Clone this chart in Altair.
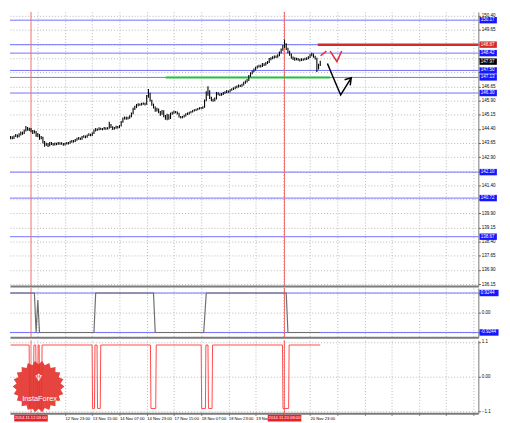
import altair as alt
import pandas as pd
import math

# ---------------- data (x = H1 bar index, 0 = 2014.11.12 03:00) ----------------
FIRST_BAR = -12
closes = [143.95, 143.90, 144.00, 144.05, 143.98, 144.10, 144.20, 144.15, 144.30, 144.45, 144.35, 144.40, 144.30,
          144.20, 144.25, 144.05, 144.10, 143.90, 143.95, 143.70, 143.55,
          143.60, 143.50, 143.65, 143.60, 143.55, 143.62, 143.58, 143.65, 143.60, 143.63, 143.55, 143.60, 143.65, 143.62,
          143.70, 143.75, 143.72, 143.80, 143.85, 143.90, 143.85, 143.95, 144.00, 143.95, 144.05, 144.10, 144.05, 144.15,
          144.30, 144.38, 144.35, 144.42, 144.40, 144.38, 144.45, 144.40, 144.42, 144.60, 144.50, 144.40,
          144.45, 144.50, 144.48, 144.55, 144.75,
          144.95, 145.00, 144.95, 144.98, 145.05, 145.20,
          145.45, 145.55, 145.65, 145.70, 145.68, 145.72, 145.75, 145.70,
          146.10, 146.30,
          145.90, 145.70, 145.55, 145.40, 145.45,
          145.30, 145.20, 145.35, 145.10, 145.00, 145.15, 144.95, 145.20, 145.25, 145.30, 145.28, 145.22,
          145.05, 145.00, 145.03, 145.10,
          145.18, 145.20, 145.25, 145.30, 145.35, 145.38,
          145.42, 145.45, 145.50, 145.48, 145.55,
          145.90, 146.20, 146.40,
          146.05, 145.95, 145.90, 146.00,
          146.30, 146.25, 146.20,
          146.25, 146.30, 146.35, 146.40, 146.38, 146.45, 146.50, 146.55,
          146.60, 146.65, 146.70, 146.68, 146.75, 146.85, 146.90, 146.98,
          147.20, 147.35, 147.45, 147.55, 147.65,
          147.70, 147.75, 147.72, 147.85, 147.80, 147.90, 147.95,
          148.10, 148.15, 148.20, 148.25, 148.22, 148.30,
          148.45, 148.60, 148.78,
          148.85,
          148.65, 148.50, 148.35, 148.20,
          148.15, 148.10, 148.12, 148.08, 148.05, 148.10, 148.08, 148.12, 148.15, 148.20,
          148.30, 148.38, 148.25,
          148.15,
          147.60,
          147.80, 147.97]
highs = [144.02, 144.00, 144.05, 144.12, 144.10, 144.16, 144.26, 144.25, 144.36, 144.55, 144.50, 144.46, 144.44,
         144.34, 144.32, 144.28, 144.18, 144.12, 144.02, 143.98, 143.75,
         143.66, 143.64, 143.70, 143.70, 143.64, 143.67, 143.66, 143.70, 143.68, 143.68, 143.65, 143.66, 143.70, 143.70,
         143.76, 143.80, 143.80, 143.86, 143.92, 143.96, 143.94, 144.02, 144.06, 144.04, 144.10, 144.16, 144.14, 144.22,
         144.36, 144.44, 144.42, 144.48, 144.46, 144.44, 144.50, 144.48, 144.48, 144.78, 144.65, 144.54,
         144.50, 144.56, 144.55, 144.60, 144.82,
         145.00, 145.06, 145.04, 145.04, 145.12, 145.26,
         145.52, 145.62, 145.72, 145.76, 145.75, 145.78, 145.80, 145.78,
         146.20, 146.52,
         146.32, 145.95, 145.74, 145.58, 145.52,
         145.48, 145.34, 145.40, 145.38, 145.14, 145.20, 145.18, 145.26, 145.30, 145.36, 145.34, 145.32,
         145.25, 145.08, 145.08, 145.15,
         145.22, 145.26, 145.30, 145.34, 145.40, 145.44,
         145.46, 145.50, 145.55, 145.56, 145.60,
         145.96, 146.40, 146.66,
         146.45, 146.10, 146.00, 146.06,
         146.36, 146.34, 146.28,
         146.30, 146.35, 146.40, 146.46, 146.44, 146.50, 146.56, 146.60,
         146.66, 146.70, 146.76, 146.74, 146.80, 146.90, 146.96, 147.04,
         147.26, 147.40, 147.50, 147.60, 147.70,
         147.76, 147.80, 147.80, 147.90, 147.88, 147.95, 148.00,
         148.16, 148.20, 148.25, 148.30, 148.30, 148.36,
         148.50, 148.66, 148.85,
         149.14,
         148.95, 148.70, 148.55, 148.40,
         148.24, 148.20, 148.18, 148.16, 148.12, 148.15, 148.14, 148.18, 148.20, 148.26,
         148.36, 148.44, 148.40,
         148.28,
         148.18,
         147.86, 148.02]
lows = [143.85, 143.85, 143.86, 143.96, 143.92, 143.95, 144.05, 144.08, 144.12, 144.26, 144.30, 144.28, 144.22,
        144.12, 144.15, 143.98, 143.96, 143.82, 143.85, 143.62, 143.45,
        143.50, 143.44, 143.48, 143.54, 143.50, 143.52, 143.53, 143.55, 143.55, 143.56, 143.50, 143.52, 143.57, 143.57,
        143.60, 143.66, 143.67, 143.70, 143.76, 143.82, 143.80, 143.82, 143.92, 143.90, 143.92, 144.02, 144.00, 144.02,
        144.12, 144.26, 144.30, 144.32, 144.34, 144.32, 144.35, 144.35, 144.36, 144.40, 144.44, 144.34,
        144.36, 144.40, 144.42, 144.44, 144.52,
        144.72, 144.90, 144.88, 144.90, 144.94, 145.02,
        145.18, 145.40, 145.50, 145.60, 145.62, 145.64, 145.68, 145.64,
        145.68, 146.05,
        145.85, 145.62, 145.48, 145.30, 145.32,
        145.22, 145.10, 145.15, 145.02, 144.88, 144.85, 144.88, 144.92, 145.15, 145.20, 145.22, 145.16,
        145.00, 144.95, 144.96, 145.00,
        145.06, 145.14, 145.16, 145.22, 145.26, 145.32,
        145.34, 145.38, 145.42, 145.44, 145.45,
        145.52, 145.86, 146.15,
        145.98, 145.86, 145.84, 145.86,
        145.96, 146.18, 146.14,
        146.16, 146.20, 146.26, 146.30, 146.32, 146.34, 146.42, 146.46,
        146.50, 146.56, 146.60, 146.62, 146.64, 146.70, 146.80, 146.86,
        146.94, 147.16, 147.30, 147.40, 147.50,
        147.60, 147.66, 147.66, 147.68, 147.74, 147.76, 147.84,
        147.90, 148.04, 148.10, 148.14, 148.16, 148.18,
        148.26, 148.40, 148.55,
        148.70,
        148.58, 148.42, 148.28, 148.12,
        148.06, 148.02, 148.04, 148.02, 147.98, 148.00, 148.02, 148.04, 148.06, 148.10,
        148.16, 148.26, 148.18,
        148.08,
        147.42,
        147.55, 147.74]

level_lines = [150.17, 148.87, 148.42, 147.50, 147.13, 146.30, 142.10, 140.72, 138.67]
blue_box_levels = [150.17, 148.42, 147.50, 147.13, 146.30, 142.10, 140.72, 138.67]
red_level = 148.87
red_level_from = 168.5
green_level = 147.13
green_from, green_to = 79.2, 175.8
current_price = 147.97
marker_bars = [0, 149]
marker_labels = ["2014.11.12 03:00", "2014.11.20 08:00"]

price_grid = [150.40, 149.65, 148.90, 148.15, 147.40, 146.65, 145.90, 145.15, 144.40, 143.65,
              142.90, 142.15, 141.40, 140.65, 139.90, 139.15, 138.40, 137.65, 136.90, 136.15]
time_ticks = [20, 36, 52, 68, 84, 100, 116, 132, 164]
time_labels = ["12 Nov 23:00", "13 Nov 15:00", "14 Nov 07:00", "14 Nov 23:00",
               "17 Nov 15:00", "18 Nov 07:00", "18 Nov 23:00", "19 Nov", "20 Nov 23:00"]

osc_x = [-12, 2, 3, 4, 5, 37, 38, 72, 73, 101.5, 103, 150, 151, 170]
osc_y = [0.9244, 0.9244, -0.9244, 0.6, -0.9244, -0.9244, 0.9244, 0.9244, -0.9244, -0.9244, 0.9244, 0.9244,
         -0.9244, -0.9244]
osc_levels = [0.9244, -0.9244]
osc_level_labels = ["0.9244", "-0.9244"]

sig_x = [-12, -1.1, -0.8, 1.4, 1.7, 2.8, 3.1, 3.9, 4.2, 4.8, 5.1, 6.2, 6.5, 35.9, 36.2, 37.3, 37.6,
         38.8, 39.1, 40.7, 41, 70.2, 70.5, 73.3, 73.6, 100, 100.3, 102.5, 102.8, 104, 104.3, 106.4, 106.7,
         147.8, 148.1, 151.4, 151.7, 170]
sig_y = [1] + [1, -1, -1, 1] * 9 + [1]

red_arrow_x = [170.2, 173.6, 175.8, 179.8, 182.6]
red_arrow_y = [148.28, 148.53, 148.53, 147.97, 148.53]
red_arrow_seg = [0, 0, 1, 1, 1]
black_arrow_x = [174.2, 177.0, 182.0, 188.2, 184.3, 188.2, 187.6]
black_arrow_y = [147.87, 147.26, 146.20, 147.11, 147.01, 147.11, 146.71]
black_arrow_seg = [0, 0, 0, 0, 1, 1, 1]

# ---------------- layout / style ----------------
W, H1, H2, H3 = 475, 278, 50, 74
XMIN, XMAX = -12.36, 262.9
FONT = "Liberation Sans"
FS = 4.6
FSX = 4.2
GRID = "#b9b9b9"
FRAME = "#7a7a7a"
BLUE_LINE = "#7272ff"
BLUE_BOX = "#1616ff"
RED_V = "#ef6f6f"

xscale = alt.Scale(domain=[XMIN, XMAX], nice=False, zero=False)
grid_x = list(range(4, 263, 16))

hidden = [p for p in price_grid if min(abs(p - b) for b in blue_box_levels + [red_level, current_price]) < 0.2]
price_label_expr = ("indexof(%s, datum.value) >= 0 ? '' : format(datum.value, '.2f')" % hidden)
time_label_expr = ("indexof(%s, datum.value) >= 0 ? %s[indexof(%s, datum.value)] : ''"
                   % (time_ticks, time_labels, time_ticks))

common_axis = dict(grid=True, gridColor=GRID, gridDash=[1, 2], gridWidth=1, title=None,
                   labelFont=FONT, labelFontSize=FS, labelColor="black", tickColor="#555555",
                   domainColor=FRAME)
ax_x_hidden = alt.Axis(values=grid_x, labels=False, ticks=False, domain=True, domainWidth=2, **common_axis)
ax_x_bottom = alt.Axis(values=grid_x, labels=True, labelExpr=time_label_expr, labelAlign="left",
                       labelFlush=False, labelOverlap=False, labelPadding=1, ticks=True, tickSize=2,
                       domain=True, domainWidth=2, **{**common_axis, "labelFontSize": FSX})
ax_y_main = alt.Axis(orient="right", values=price_grid, labelExpr=price_label_expr, labelOverlap=False,
                     labelPadding=1, ticks=True, tickSize=2, domain=True, domainWidth=1, **common_axis)
ax_y_osc = alt.Axis(orient="right", values=[-0.9244, 0, 0.9244], labelExpr="datum.value == 0 ? '0.00' : ''",
                    labelOverlap=False, labelPadding=1, ticks=True, tickSize=2, domain=True, domainWidth=1,
                    **common_axis)
ax_y_sig = alt.Axis(orient="right", values=[-1.1, 0, 1.1],
                    labelExpr="datum.value == 0 ? '0.00' : format(datum.value, '.1f')",
                    labelOverlap=False, labelPadding=1, ticks=True, tickSize=2, domain=True, domainWidth=1,
                    **common_axis)

y_main_scale = alt.Scale(domain=[136.05, 150.61], nice=False, zero=False)
y_osc_scale = alt.Scale(domain=[-1.15, 1.16], nice=False, zero=False)
y_sig_scale = alt.Scale(domain=[-1.15, 1.15], nice=False, zero=False)

# ---------------- frames ----------------
bars = pd.DataFrame({"bar": list(range(FIRST_BAR, FIRST_BAR + len(closes))),
                     "high": highs, "low": lows, "close": closes})
lv = pd.DataFrame({"price": level_lines})
vl = pd.DataFrame({"bar": marker_bars})
boxes_blue = pd.DataFrame({"price": blue_box_levels, "label": ["%.2f" % v for v in blue_box_levels]})
box_red = pd.DataFrame({"price": [red_level], "label": ["%.2f" % red_level]})
box_black = pd.DataFrame({"price": [current_price], "label": ["%.2f" % current_price]})
green_df = pd.DataFrame({"a": [green_from], "b": [green_to], "price": [green_level]})
red_df = pd.DataFrame({"a": [red_level_from], "price": [red_level]})
red_arrow = pd.DataFrame({"bar": red_arrow_x, "price": red_arrow_y, "seg": red_arrow_seg,
                          "o": list(range(len(red_arrow_x)))})
black_arrow = pd.DataFrame({"bar": black_arrow_x, "price": black_arrow_y, "seg": black_arrow_seg,
                            "o": list(range(len(black_arrow_x)))})


def X(f, ax):
    return alt.X(f, type="quantitative", scale=xscale, axis=ax)


def Y(f, sc, ax):
    return alt.Y(f, type="quantitative", scale=sc, axis=ax)


ym = lambda f: Y(f, y_main_scale, ax_y_main)
p_levels = alt.Chart(lv).mark_rule(color=BLUE_LINE, strokeWidth=1).encode(y=ym("price"))
p_vl = alt.Chart(vl).mark_rule(color=RED_V, strokeWidth=1).encode(x=X("bar", ax_x_hidden))
p_green = alt.Chart(green_df).mark_rule(color="#22c33a", strokeWidth=2).encode(
    x=X("a", ax_x_hidden), x2="b", y=ym("price"))
p_red = alt.Chart(red_df).mark_rule(color="#d42a2a", strokeWidth=2.5).encode(
    x=X("a", ax_x_hidden), x2=alt.value(W), y=ym("price"))
p_bars = alt.Chart(bars).mark_rule(color="black", strokeWidth=1.1).encode(
    x=X("bar", ax_x_hidden), y=ym("low"), y2="high")
p_rarrow = alt.Chart(red_arrow).mark_line(color="#e8283c", strokeWidth=1.5).encode(
    x=X("bar", ax_x_hidden), y=ym("price"), detail="seg:N", order="o:Q")
p_barrow = alt.Chart(black_arrow).mark_line(color="black", strokeWidth=1.5).encode(
    x=X("bar", ax_x_hidden), y=ym("price"), detail="seg:N", order="o:Q")


def box_layers(df, color, sc, ax, x1=W + 1.2, x2=W + 18.8):
    r = alt.Chart(df).mark_rule(color=color, strokeWidth=6.5).encode(
        x=alt.value(x1), x2=alt.value(x2), y=Y("price", sc, ax))
    t = alt.Chart(df).mark_text(align="left", baseline="middle", color="white", font=FONT, fontSize=FS).encode(
        x=alt.value(x1 + 1.3), y=Y("price", sc, ax), text="label:N")
    return [r, t]


main = alt.layer(
    p_levels, p_vl, p_green, p_red, p_bars, p_rarrow, p_barrow,
    *box_layers(boxes_blue, BLUE_BOX, y_main_scale, ax_y_main),
    *box_layers(box_red, "#d42a2a", y_main_scale, ax_y_main),
    *box_layers(box_black, "black", y_main_scale, ax_y_main),
).properties(width=W, height=H1)

osc = pd.DataFrame({"bar": osc_x, "v": osc_y, "o": list(range(len(osc_x)))})
osc_lv = pd.DataFrame({"price": osc_levels, "label": osc_level_labels})
yo = lambda f: Y(f, y_osc_scale, ax_y_osc)
panel2 = alt.layer(
    alt.Chart(osc_lv).mark_rule(color=BLUE_LINE, strokeWidth=1).encode(y=yo("price")),
    alt.Chart(vl).mark_rule(color=RED_V, strokeWidth=1).encode(x=X("bar", ax_x_hidden)),
    alt.Chart(osc).mark_line(color="#6e6e6e", strokeWidth=1.2).encode(
        x=X("bar", ax_x_hidden), y=yo("v"), order="o:Q"),
    *box_layers(osc_lv, BLUE_BOX, y_osc_scale, ax_y_osc, W + 1.2, W + 20.5),
).properties(width=W, height=H2)

sig = pd.DataFrame({"bar": sig_x, "v": sig_y, "o": list(range(len(sig_x)))})
ys = lambda f: Y(f, y_sig_scale, ax_y_sig)
px_per_bar = W / (XMAX - XMIN)
half = 17.0 / px_per_bar
mstart = [max(XMIN, b - half) for b in marker_bars]
mk = pd.DataFrame({"a": mstart, "b": [s + 2 * half for s in mstart],
                   "c": [s + half for s in mstart], "label": marker_labels})
teeth = 22
pts = []
for k in range(2 * teeth):
    ang = math.pi * k / teeth
    r = 1.0 if k % 2 == 0 else 0.86
    pts.append("%.3f %.3f" % (r * math.cos(ang), r * math.sin(ang)))
gear = "M" + " L".join(pts) + " Z"
one = pd.DataFrame({"k": [0]})

panel3 = alt.layer(
    alt.Chart(vl).mark_rule(color=RED_V, strokeWidth=1).encode(x=X("bar", ax_x_bottom)),
    alt.Chart(sig).mark_line(color="#ff4a4a", strokeWidth=1).encode(
        x=X("bar", ax_x_bottom), y=ys("v"), order="o:Q"),
    alt.Chart(one).mark_point(shape=gear, filled=True, color="#e3342f", opacity=0.92, size=2750,
                              strokeWidth=0).encode(x=alt.value(29), y=alt.value(47)),
    alt.Chart(one).mark_text(text="InstaForex", color="white", font=FONT, fontSize=7.5,
                             align="center", baseline="middle").encode(x=alt.value(30), y=alt.value(60)),
    alt.Chart(one).mark_text(text="♆", color="white", font="DejaVu Sans", fontSize=10,
                             align="center", baseline="middle").encode(x=alt.value(29), y=alt.value(38)),
    alt.Chart(mk).mark_rule(color="#e8202a", strokeWidth=7).encode(
        x=X("a", ax_x_bottom), x2="b", y=alt.value(H3 + 5.0)),
    alt.Chart(mk).mark_text(color="white", font=FONT, fontSize=FSX, align="center", baseline="middle").encode(
        x=X("c", ax_x_bottom), y=alt.value(H3 + 5.0), text="label:N"),
).properties(width=W, height=H3)

chart = alt.vconcat(main, panel2, panel3, spacing=0).properties(
    padding=0, background="white"
).configure_view(stroke=None)

chart.save("out.html", embed_options={"renderer": "svg", "actions": False})
